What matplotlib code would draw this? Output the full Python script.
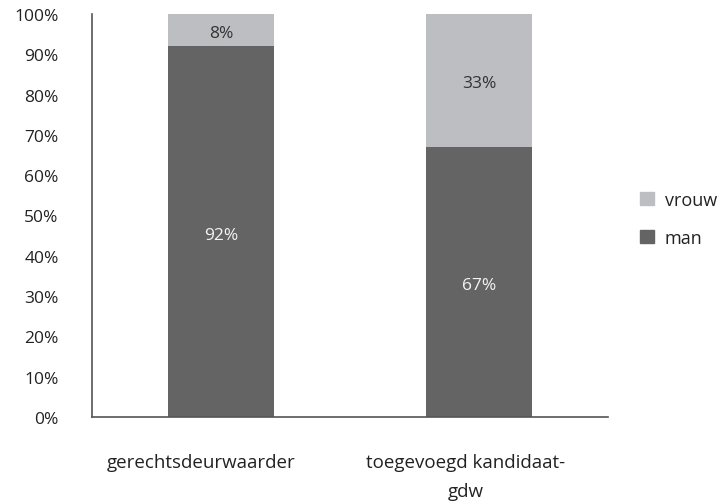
import matplotlib
matplotlib.use("Agg")
import matplotlib.pyplot as plt
from matplotlib.patches import Patch
from matplotlib.transforms import ScaledTranslation

categories = ["gerechtsdeurwaarder", "toegevoegd kandidaat-\ngdw"]
man = [92, 67]
vrouw = [8, 33]
yticks = [0, 10, 20, 30, 40, 50, 60, 70, 80, 90, 100]

dark = "#646464"
light = "#bdbec2"
txt = "#222222"
fs = 12.5

plt.rcParams['font.family'] = ['Open Sans', 'DejaVu Sans']

fig = plt.figure(figsize=(7.23, 5.02), dpi=100)
ax = fig.add_axes([92/723, 84/502, (608-92)/723, (418-15)/502])

x = list(range(len(categories)))
w = 0.41
ax.bar(x, man, width=w, color=dark)
ax.bar(x, vrouw, width=w, bottom=man, color=light)

down = ax.transData + ScaledTranslation(0, -0.03, fig.dpi_scale_trans)
for i in x:
    ax.text(i, man[i] / 2, f"{man[i]}%", ha="center", va="center", color="#f4f4f4",
            fontsize=fs, transform=down)
    ax.text(i, man[i] + vrouw[i] / 2, f"{vrouw[i]}%", ha="center", va="center", color="#333333",
            fontsize=fs, transform=down)

ax.set_xlim(-0.5, 1.5)
ax.set_ylim(0, 100)
ax.set_yticks(yticks)
ax.set_yticklabels([f"{t}%" for t in yticks], fontsize=fs, color=txt)
ax.set_xticks(x)
ax.set_xticklabels(categories, fontsize=13.5, color=txt, linespacing=1.75, va="top")
ax.tick_params(axis="both", length=0)
ax.tick_params(axis="y", pad=24)
ax.tick_params(axis="x", pad=26)
shifts = [-20, -13]
for lab, dx in zip(ax.get_xticklabels(), shifts):
    lab.set_transform(lab.get_transform() + ScaledTranslation(dx / 100, 0, fig.dpi_scale_trans))
for s in ["top", "right"]:
    ax.spines[s].set_visible(False)
for s in ["left", "bottom"]:
    ax.spines[s].set_color("#555555")
    ax.spines[s].set_linewidth(1.2)

handles = [Patch(color=light, label="vrouw"), Patch(color=dark, label="man")]
leg = fig.legend(handles=handles, loc="center left", bbox_to_anchor=(624/723, 1 - 220/502),
                 frameon=False, fontsize=13, handlelength=0.75, handleheight=0.75,
                 labelspacing=1.1, handletextpad=0.6)
for t in leg.get_texts():
    t.set_color(txt)

fig.savefig("out.png", dpi=100)
